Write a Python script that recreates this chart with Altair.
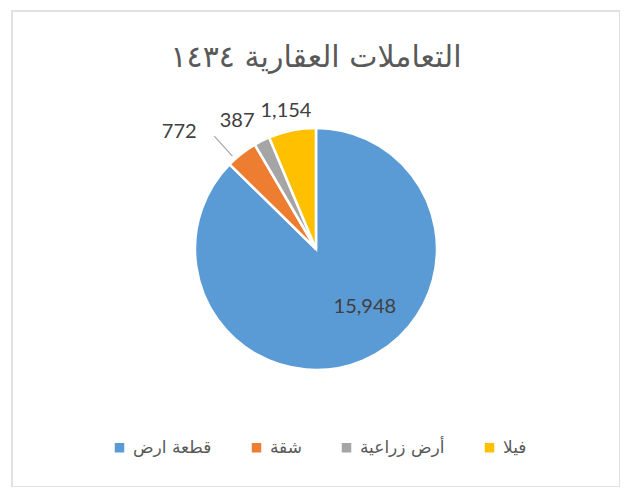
import altair as alt
import pandas as pd

categories = ["قطعة ارض", "شقة", "أرض زراعية", "فيلا"]
values = [15948, 772, 387, 1154]
labels = ["15,948", "772", "387", "1,154"]
colors = ["#5B9BD5", "#ED7D31", "#A5A5A5", "#FFC000"]
title_text = "التعاملات العقارية ١٤٣٤"

df = pd.DataFrame({
    "cat": categories,
    "value": values,
    "label": labels,
    "idx": list(range(len(categories))),
})

LABEL_FONT = "Lato"
AR_FONT = "DejaVu Sans"
TXT = "#404040"
W, H = 608, 476

frame = alt.Chart(pd.DataFrame({"f": [0]})).mark_rect(
    fill=None, stroke="#D9D9D9", strokeWidth=1.5
).encode(x=alt.value(0), x2=alt.value(W), y=alt.value(0), y2=alt.value(H))

base = alt.Chart(df).encode(
    theta=alt.Theta("value:Q", stack=True),
    order=alt.Order("idx:Q", sort="ascending"),
)

pie = base.mark_arc(radius=121, stroke="white", strokeWidth=2.5).encode(
    color=alt.Color(
        "cat:N",
        sort=categories,
        scale=alt.Scale(domain=categories, range=colors),
        legend=alt.Legend(
            orient="none",
            legendX=99,
            legendY=428,
            direction="horizontal",
            title=None,
            symbolType="square",
            symbolSize=90,
            symbolStrokeWidth=0,
            labelFont=AR_FONT,
            labelFontSize=17,
            labelColor="#595959",
            columnPadding=36,
            labelOffset=5,
        ),
    )
)

leader = alt.Chart(df).transform_joinaggregate(
    total="sum(value)"
).transform_window(
    cum="sum(value)", sort=[alt.SortField("idx")]
).transform_calculate(
    a="(datum.cum - datum.value * 0.5) / datum.total * 2 * PI - 0.07"
).transform_filter("datum.idx == 1").mark_arc(
    radius=125, radius2=152, fill=None, stroke="#A6A6A6", strokeWidth=1.2
).encode(
    theta=alt.Theta("a:Q", scale=None),
    theta2="a:Q",
)


def label_layer(i, r, toff):
    return base.mark_text(
        radius=r, thetaOffset=toff, font=LABEL_FONT, fontSize=20, color=TXT
    ).encode(
        detail="cat:N",
        text=alt.condition(f"datum.idx == {i}", alt.Text("label:N"), alt.value("")),
    )


layers = [
    frame,
    pie,
    leader,
    label_layer(0, 76, -0.30),
    label_layer(1, 180, -0.20),
    label_layer(2, 150, -0.09),
    label_layer(3, 141, -0.016),
]

chart = alt.layer(*layers).properties(
    width=W,
    height=H,
    autosize=alt.AutoSizeParams(type="none"),
    padding={"left": 4, "top": 3, "right": 0, "bottom": 0},
    title=alt.TitleParams(
        text=title_text,
        font=AR_FONT,
        fontSize=30,
        fontWeight="normal",
        color="#595959",
        anchor="middle",
        baseline="alphabetic",
        offset=-87,
    ),
).configure_view(stroke=None)

chart.save("out.html", embed_options={"renderer": "svg", "actions": False})
